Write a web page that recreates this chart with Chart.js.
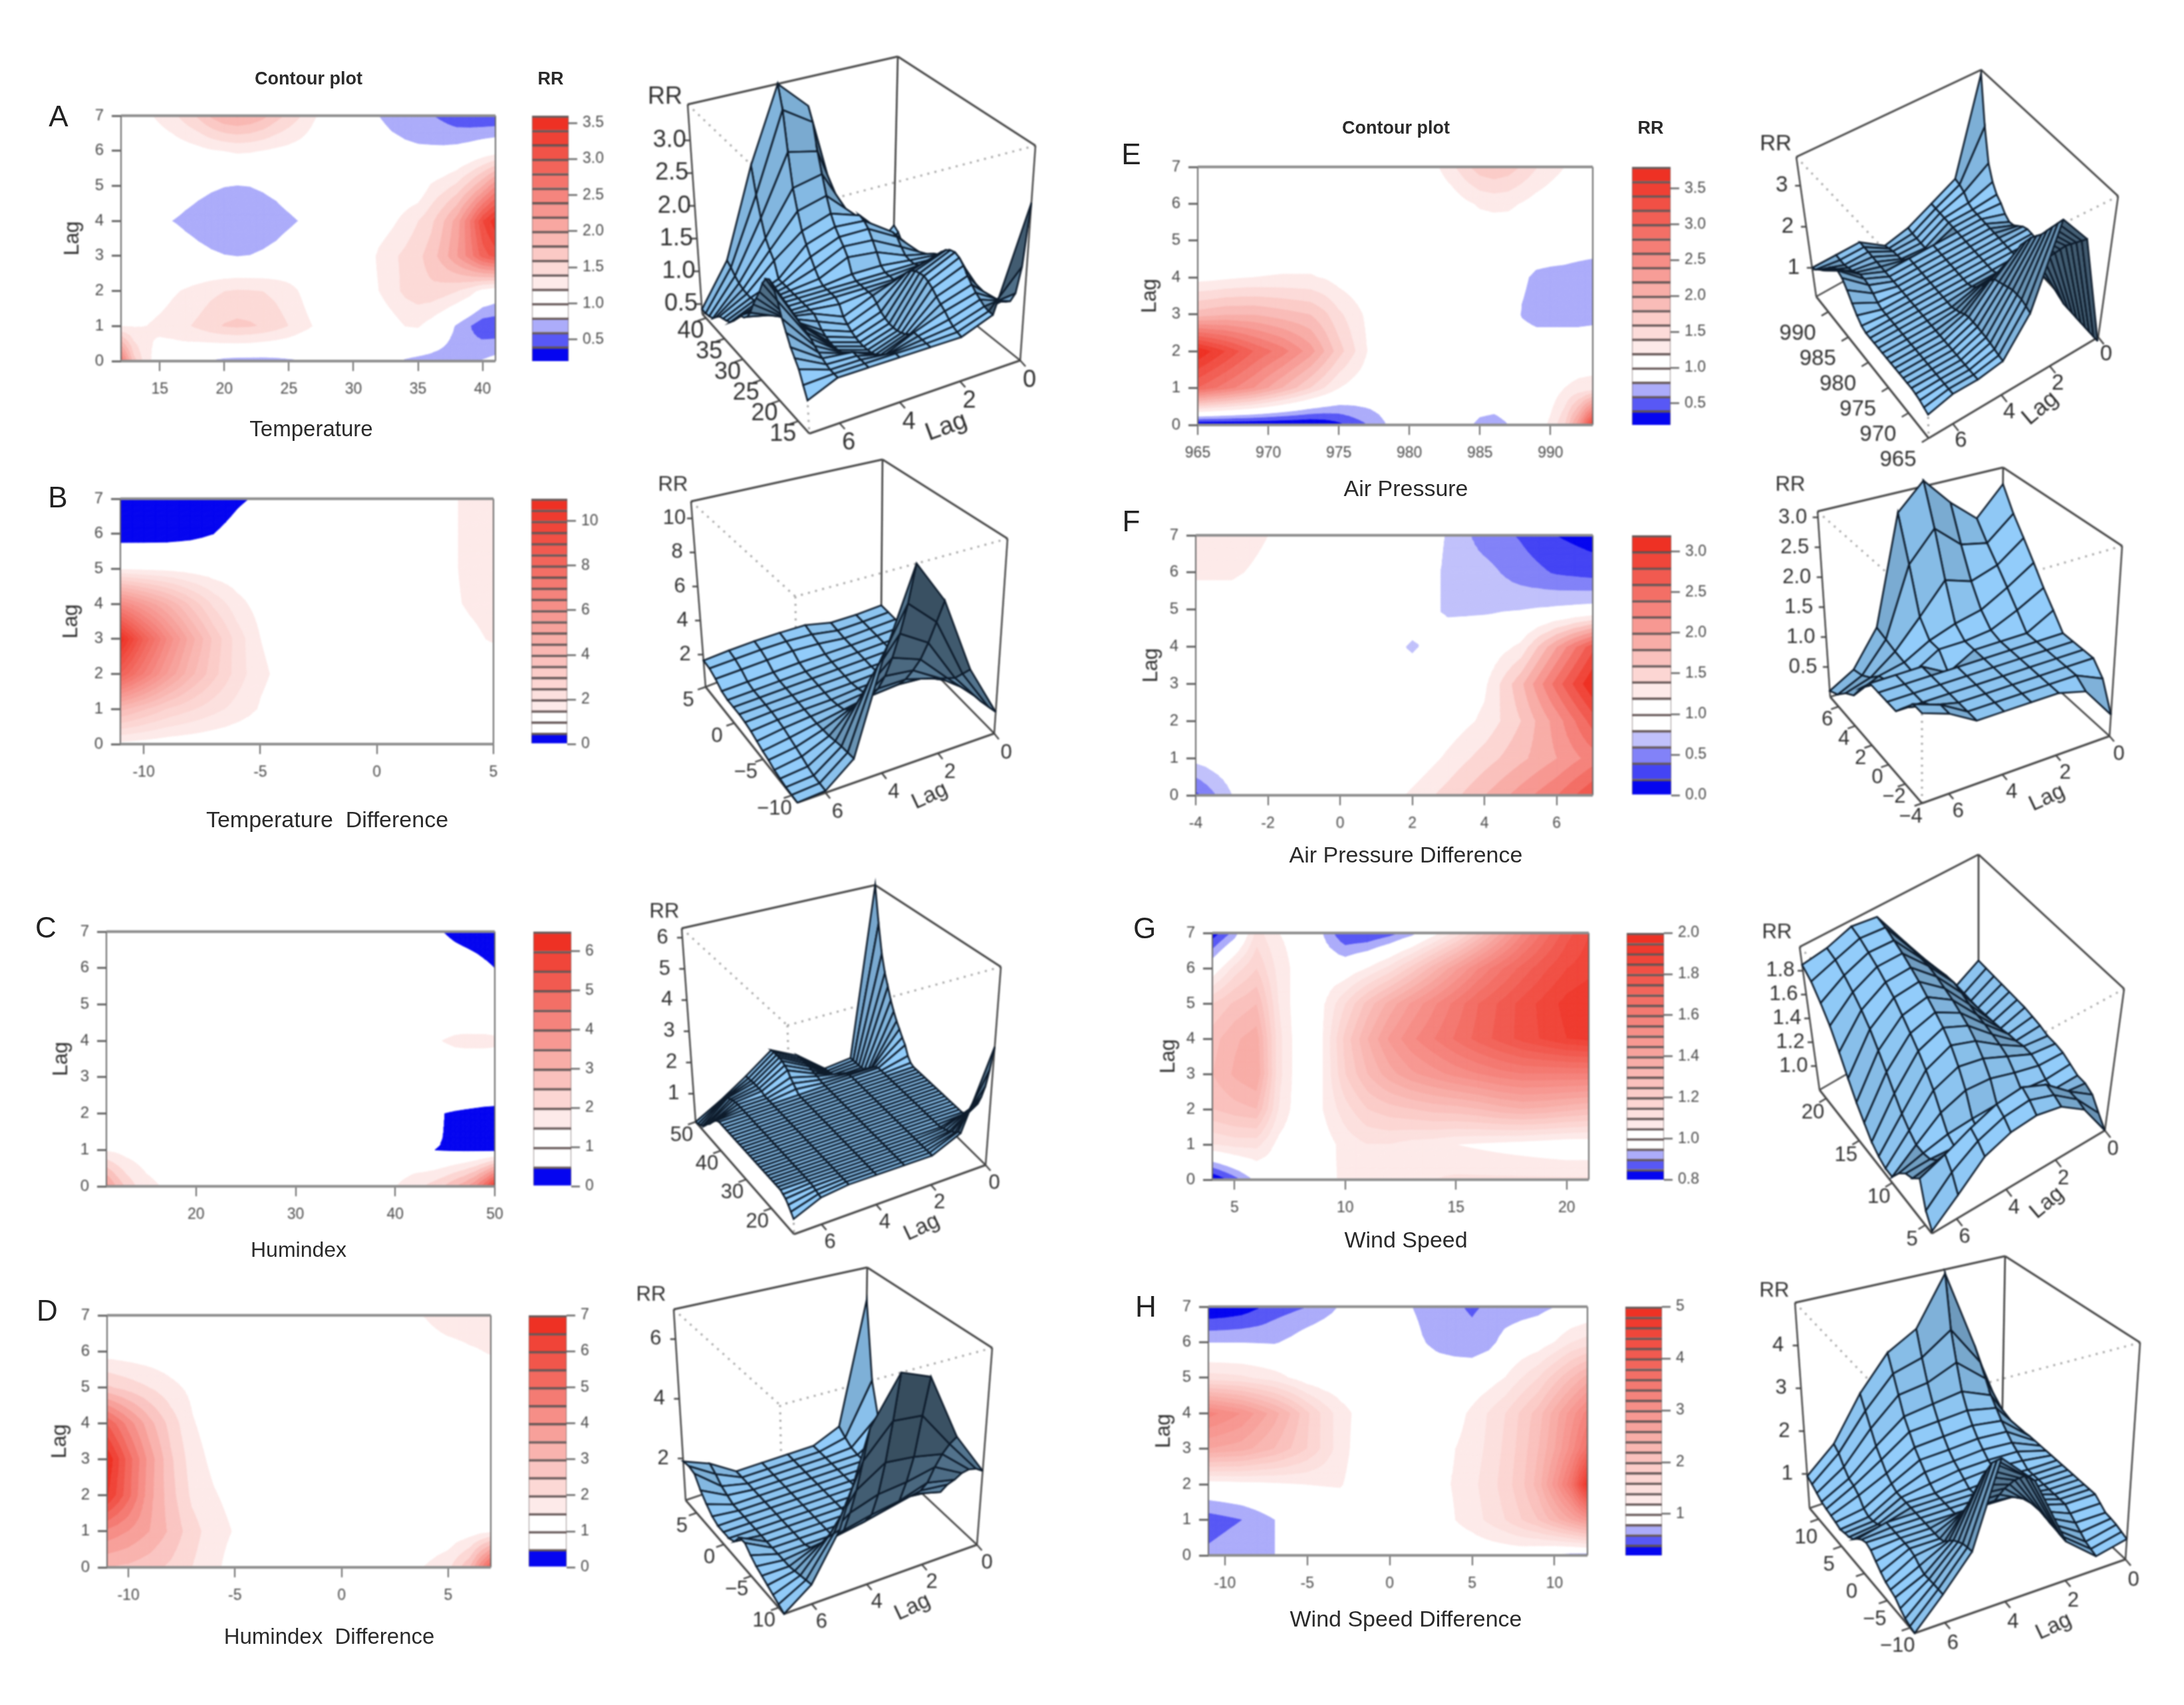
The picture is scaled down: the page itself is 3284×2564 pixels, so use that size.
<!DOCTYPE html>
<html>
<head>
<meta charset="utf-8">
<title>RR contour and surface plots</title>
<script src="https://cdn.jsdelivr.net/npm/chart.js@4/dist/chart.umd.min.js"></script>
<style>
  html, body { margin: 0; background: #fff; }
  #page { position: relative; width: 3284px; height: 2564px; overflow: hidden; background: #fff; font-family: "Liberation Sans", Arial, sans-serif; }
  #page canvas { position: absolute; filter: blur(0.8px); }
  .txt { position: absolute; transform: translate(-50%, -50%); white-space: pre; color: #2a2a2a; filter: blur(0.5px); }
</style>
</head>
<body>
<div id="page"></div>
<script>
// lag is the same for all panels
const lags = [0, 1, 2, 3, 4, 5, 6, 7];

// ---- A: temperature
const tempVals = [12, 13, 14, 15, 16, 17, 18, 19, 20, 21, 22, 23, 24, 25, 26, 27, 28, 29, 30, 31, 32, 33, 34, 35, 36, 37, 38, 39, 40, 41];
const tempRR = [
  [2.7, 1.7, 1.25, 1.08, 1.02, .97, .88, .79, .74, .72, .72, .72, .74, .77, .8, .9, .95, .98, .98, .96, .92, .85, .78, .74, .72, .7, .68, .7, .82, .88],
  [1.18, 1.18, 1.2, 1.25, 1.3, 1.37, 1.45, 1.55, 1.62, 1.65, 1.63, 1.58, 1.5, 1.4, 1.28, 1.18, 1.1, 1.03, 1, 1, 1.02, 1.1, 1.2, 1.22, 1.1, .95, .78, .62, .47, .45],
  [1, 1.02, 1.05, 1.1, 1.17, 1.22, 1.28, 1.35, 1.4, 1.43, 1.42, 1.4, 1.35, 1.27, 1.17, 1.05, 1, 1, 1, 1.05, 1.2, 1.33, 1.45, 1.52, 1.55, 1.5, 1.42, 1.3, 1.1, 1],
  [1, 1, 1, 1, 1, .92, .867, .83, .807, .8, .805, .83, .87, .94, 1, 1, 1, 1, 1, 1.05, 1.25, 1.36, 1.45, 1.55, 1.7, 1.92, 2.2, 2.5, 2.9, 3.1],
  [1, 1, .95, .88, .8, .75, .71, .68, .665, .66, .665, .68, .71, .76, .82, .95, 1, 1, 1, 1, 1.05, 1.15, 1.27, 1.4, 1.55, 1.8, 2.1, 2.6, 3.2, 3.55],
  [1, 1, 1, 1, 1, .92, .867, .83, .807, .8, .805, .83, .87, .94, 1, 1, 1, 1, 1, 1, 1, 1, 1, 1, 1.22, 1.32, 1.45, 1.7, 2, 2.4],
  [1, 1, 1, 1.02, 1.05, 1.08, 1.12, 1.17, 1.2, 1.23, 1.22, 1.19, 1.15, 1.12, 1.08, 1.03, 1, 1, 1, .98, .95, .9, .86, .84, .84, .85, .88, .93, 1, 1.05],
  [.82, .98, 1.15, 1.25, 1.35, 1.5, 1.65, 1.85, 2, 2.05, 2, 1.88, 1.7, 1.55, 1.4, 1.22, 1.1, 1.03, 1, .9, .8, .72, .68, .65, .62, .55, .47, .44, .42, .42]
];
const tempTicks = [15, 20, 25, 30, 35, 40];
const tempBarTicks = [.5, 1, 1.5, 2, 2.5, 3, 3.5];
const tempSurfTicks = [.5, 1, 1.5, 2, 2.5, 3];

// ---- B: temperature difference
const tdiffVals = [-11, -10, -9, -8, -7, -6, -5, -4, -3, -2, -1, 0, 1, 2, 3, 4, 5];
const tdiffRR = [
  [1.3, 1.2, 1.1, 1.05, 1, 1, 1, 1, 1, 1, 1, 1, 1, 1, 1, 1, 1],
  [4.2, 3.6, 3, 2.6, 2.2, 1.8, 1.45, 1.25, 1.1, 1.05, 1, 1, 1, 1, 1, 1, 1],
  [8.5, 7, 5.5, 4.2, 3.2, 2.3, 1.6, 1.35, 1.15, 1.05, 1, 1, 1, 1, 1, 1.05, 1.1],
  [11, 8.5, 6.5, 4.8, 3.4, 2.3, 1.5, 1.25, 1.1, 1, 1, 1, 1, 1.05, 1.25, 1.4, 1.55],
  [6.5, 5.5, 4.5, 3.4, 2.4, 1.7, 1.25, 1.1, 1, 1, 1, 1, 1, 1.1, 1.4, 1.55, 1.65],
  [1.4, 1.35, 1.3, 1.2, 1.1, 1.05, 1, 1, 1, 1, 1, 1, 1, 1.1, 1.4, 1.6, 1.7],
  [.2, .22, .25, .35, .5, .62, .75, .88, .95, 1, 1, 1, 1, 1.1, 1.4, 1.6, 1.7],
  [.1, .12, .15, .22, .3, .45, .55, .7, .85, .95, 1, 1, 1, 1.1, 1.4, 1.6, 1.65]
];
const tdiffTicks = [-10, -5, 0, 5];
const tdiffBarTicks = [0, 2, 4, 6, 8, 10];
const tdiffSurfTicks = [2, 4, 6, 8, 10];

// ---- C: humindex
const humVals = [11, 12, 13, 14, 15, 16, 17, 18, 19, 20, 21, 22, 23, 24, 25, 26, 27, 28, 29, 30, 31, 32, 33, 34, 35, 36, 37, 38, 39, 40, 41, 42, 43, 44, 45, 46, 47, 48, 49, 50];
const humRR = [
  [3.8, 3, 2.4, 2, 1.7, 1.55, 1.4, 1.2, 1.05, 1, 1, 1, 1, 1, 1, 1, 1, 1, 1, 1, 1, 1, 1, 1, 1, 1, 1, 1.05, 1.2, 1.48, 1.65, 1.85, 2.05, 2.3, 2.6, 3, 3.4, 4, 5, 6.3],
  [1.4, 1.35, 1.25, 1.2, 1.12, 1.08, 1.05, 1, 1, 1, 1, 1, 1, 1, 1, 1, 1, 1, 1, 1, 1, 1, 1, 1, 1, 1, 1, 1, 1, 1, .95, .85, .65, .5, .47, .45, .43, .42, .41, .4],
  [1, 1, 1, 1, 1, 1, 1, 1, 1, 1, 1, 1, 1, 1, 1, 1, 1, 1, 1, 1, 1, 1, 1, 1, 1, 1, 1, 1, 1, 1, .97, .92, .85, .72, .5, .46, .43, .4, .37, .35],
  [1, 1, 1, 1, 1, 1, 1, 1, 1, 1, 1, 1, 1, 1, 1, 1, 1, 1, 1, 1, 1, 1, 1, 1, 1, 1, 1, 1, 1, 1, 1, 1.02, 1.05, 1.05, 1.08, 1.1, 1.1, 1.1, 1.1, 1.1],
  [1, 1, 1, 1, 1, 1, 1, 1, 1, 1, 1, 1, 1, 1, 1, 1, 1, 1, 1, 1, 1, 1, 1, 1, 1, 1, 1, 1, 1, 1, 1.1, 1.2, 1.3, 1.45, 1.52, 1.58, 1.6, 1.6, 1.6, 1.58],
  [1, 1, 1, 1, 1, 1, 1, 1, 1, 1, 1, 1, 1, 1, 1, 1, 1, 1, 1, 1, 1, 1, 1, 1, 1, 1, 1, 1, 1, 1, 1, 1, 1, 1.05, 1.05, 1.05, 1.05, 1.03, 1.02, 1],
  [.9, .92, .95, .98, 1, 1, 1, 1, 1, 1, 1, 1, 1, 1, 1, 1, 1, 1, 1, 1, 1, 1, 1, 1, 1, 1, 1, 1, 1, 1, 1, 1, 1, .98, .95, .9, .85, .75, .62, .5],
  [.55, .68, .8, .9, .95, 1, 1, 1, 1, 1, 1, 1, 1, 1, 1, 1, 1, 1, 1, 1, 1, 1, 1, 1, 1, 1, 1, 1, 1, 1, .95, .85, .72, .58, .48, .35, .25, .18, .13, .1]
];
const humTicks = [20, 30, 40, 50];
const humBarTicks = [0, 1, 2, 3, 4, 5, 6];
const humSurfTicks = [1, 2, 3, 4, 5, 6];

// ---- D: humindex difference
const hdiffVals = [-11, -10, -9, -8, -7, -6, -5, -4, -3, -2, -1, 0, 1, 2, 3, 4, 5, 6, 7];
const hdiffRR = [
  [3, 2.9, 2.7, 2.4, 2, 1.65, 1.2, 1.05, 1, 1, 1, 1, 1, 1, 1.3, 1.55, 1.9, 3, 5.8],
  [4.4, 4, 3.5, 2.9, 2.2, 1.75, 1.45, 1.15, 1, 1, 1, 1, 1, 1, 1, 1, 1.05, 1.2, 1.4],
  [6.6, 5.2, 3.7, 2.7, 1.9, 1.55, 1.3, 1.1, 1, 1, 1, 1, 1, 1, 1, 1, 1, 1, 1],
  [7, 5.3, 3.8, 2.6, 1.75, 1.35, 1.1, 1, 1, 1, 1, 1, 1, 1, 1, 1, 1, 1, 1],
  [5.5, 4.3, 3.2, 2.3, 1.55, 1.2, 1, 1, 1, 1, 1, 1, 1, 1, 1, 1, 1, 1, 1],
  [2.6, 2.3, 2, 1.65, 1.35, 1.1, 1, 1, 1, 1, 1, 1, 1, 1, 1, 1, 1, 1, 1],
  [1.2, 1.15, 1.1, 1.05, 1, 1, 1, 1, 1, 1, 1, 1, 1, 1, 1, 1.1, 1.2, 1.4, 1.55],
  [.6, .7, .8, .9, 1, 1.1, 1.25, 1.45, 1.42, 1.1, 1, 1, 1, 1.1, 1.3, 1.55, 1.9, 1.95, 1.9]
];
const hdiffTicks = [-10, -5, 0, 5];
const hdiffBarTicks = [0, 1, 2, 3, 4, 5, 6, 7];
const hdiffSurfTicks = [2, 4, 6];

// ---- E: air pressure
const presVals = [965, 966, 967, 968, 969, 970, 971, 972, 973, 974, 975, 976, 977, 978, 979, 980, 981, 982, 983, 984, 985, 986, 987, 988, 989, 990, 991, 992, 993];
const presRR = [
  [.2, .2, .2, .2, .2, .2, .2, .2, .2, .25, .35, .48, .6, .75, .9, .98, 1, 1, .95, .85, .75, .72, .8, .95, 1.05, 1.25, 1.6, 2.4, 3.6],
  [3, 2.85, 2.7, 2.55, 2.4, 2.2, 2, 1.8, 1.6, 1.4, 1.2, 1.1, 1.05, 1, 1, 1, 1, 1, 1, 1, 1, 1, 1, 1, 1, 1.05, 1.2, 1.27, 1.3],
  [3.8, 3.6, 3.4, 3.2, 3, 2.85, 2.7, 2.5, 2.3, 2, 1.7, 1.45, 1.2, 1.05, 1, 1, 1, 1, 1, 1, 1, 1, 1, 1, 1, 1, 1, 1, 1],
  [1.9, 1.95, 2, 2, 2, 1.95, 1.9, 1.85, 1.8, 1.65, 1.45, 1.3, 1.15, 1.05, 1, 1, 1, 1, 1, 1, 1, 1, 1, .78, .7, .7, .7, .7, .72],
  [1.1, 1.12, 1.15, 1.18, 1.2, 1.21, 1.22, 1.22, 1.22, 1.18, 1.1, 1.05, 1, 1, 1, 1, 1, 1, 1, 1, 1, 1, 1, .85, .75, .72, .7, .65, .6],
  [1, 1, 1, 1, 1, 1, 1, 1, 1, 1, 1, 1, 1, 1, 1, 1, 1, 1, 1, 1, 1, 1, 1, 1, 1, 1, 1, 1, 1],
  [1, 1, 1, 1, 1, 1, 1, 1, 1, 1, 1, 1, 1, 1, 1, 1, 1, 1, 1.05, 1.15, 1.23, 1.26, 1.25, 1.18, 1.1, 1.05, 1, 1, 1],
  [.85, .9, .95, .98, 1, 1, 1, 1, 1, 1, 1, 1, 1, 1, 1, 1, 1.05, 1.18, 1.35, 1.55, 1.72, 1.78, 1.72, 1.58, 1.42, 1.3, 1.2, 1.08, 1]
];
const presTicks = [965, 970, 975, 980, 985, 990];
const presBarTicks = [.5, 1, 1.5, 2, 2.5, 3, 3.5];
const presSurfTicks = [1, 2, 3];

// ---- F: air pressure difference
const pdiffVals = [-4, -3, -2, -1, 0, 1, 2, 3, 4, 5, 6, 7];
const pdiffRR = [
  [.35, .8, 1, 1, 1, 1, 1.25, 1.5, 1.8, 2.1, 2.4, 2.8],
  [.88, 1, 1, 1, 1, 1, 1, 1.25, 1.5, 1.75, 2, 2.3],
  [1, 1, 1, 1, 1, 1, 1, 1.05, 1.25, 1.6, 2.1, 2.7],
  [1, 1, 1, 1, 1, 1, 1, 1, 1.15, 1.75, 2.5, 3.2],
  [1, 1, 1, 1, 1, 1, .76, 1, 1, 1.25, 2, 2.75],
  [1, 1, 1, 1, 1, 1, 1, .75, .77, .8, .85, .9],
  [1.25, 1.25, 1.1, 1, 1, 1, 1, .75, .68, .5, .38, .32],
  [1.4, 1.4, 1.2, 1, 1, 1, 1, .78, .5, .38, .2, .1]
];
const pdiffTicks = [-4, -2, 0, 2, 4, 6];
const pdiffBarTicks = [0, .5, 1, 1.5, 2, 2.5, 3];
const pdiffSurfTicks = [.5, 1, 1.5, 2, 2.5, 3];

// ---- G: wind speed
const windVals = [4, 5, 6, 7, 8, 9, 10, 11, 12, 13, 14, 15, 16, 17, 18, 19, 20, 21];
const windRR = [
  [.8, .88, .97, 1, 1, 1.03, 1.06, 1.07, 1.07, 1.09, 1.1, 1.11, 1.11, 1.11, 1.11, 1.11, 1.11, 1.11],
  [1.1, 1.12, 1.12, 1.03, 1, 1.02, 1.07, 1.1, 1.1, 1.08, 1.07, 1.05, 1.04, 1.03, 1.02, 1.01, 1, 1],
  [1.25, 1.28, 1.3, 1.1, 1, 1.05, 1.13, 1.2, 1.23, 1.25, 1.27, 1.28, 1.3, 1.33, 1.35, 1.34, 1.32, 1.3],
  [1.3, 1.36, 1.4, 1.12, 1, 1.05, 1.2, 1.3, 1.38, 1.44, 1.48, 1.52, 1.55, 1.58, 1.6, 1.6, 1.6, 1.6],
  [1.28, 1.34, 1.38, 1.12, 1, 1.05, 1.22, 1.35, 1.46, 1.54, 1.6, 1.66, 1.72, 1.77, 1.82, 1.86, 1.9, 1.92],
  [1.2, 1.26, 1.3, 1.1, 1, 1.04, 1.15, 1.27, 1.37, 1.46, 1.54, 1.62, 1.7, 1.76, 1.82, 1.87, 1.92, 1.95],
  [1, 1.12, 1.2, 1.08, 1.02, 1, 1, 1.05, 1.12, 1.22, 1.33, 1.44, 1.55, 1.64, 1.72, 1.79, 1.85, 1.88],
  [.82, .92, 1.12, 1.05, 1.02, .95, .85, .85, .88, .93, 1.02, 1.12, 1.25, 1.4, 1.55, 1.67, 1.78, 1.85]
];
const windTicks = [5, 10, 15, 20];
const windBarTicks = [.8, 1, 1.2, 1.4, 1.6, 1.8, 2];
const windSurfTicks = [1, 1.2, 1.4, 1.6, 1.8];

// ---- H: wind speed difference
const wdiffVals = [-11, -10, -9, -8, -7, -6, -5, -4, -3, -2, -1, 0, 1, 2, 3, 4, 5, 6, 7, 8, 9, 10, 11, 12];
const wdiffRR = [
  [.65, .7, .75, .78, .8, .9, 1, 1, 1, 1, 1, 1, 1, 1, 1, 1, 1, 1, 1, .98, .9, .78, .72, .7],
  [.5, .55, .6, .7, .8, .9, 1, 1, 1, 1, 1, 1, 1, 1, 1.1, 1.2, 1.3, 1.45, 1.6, 1.8, 2, 2.3, 2.6, 2.9],
  [1.05, 1.07, 1.1, 1.12, 1.15, 1.18, 1.2, 1.21, 1.22, 1.1, 1, 1, 1, 1.05, 1.15, 1.22, 1.35, 1.5, 1.7, 1.95, 2.3, 2.9, 3.6, 4.9],
  [2.6, 2.55, 2.5, 2.35, 2.2, 2, 1.8, 1.55, 1.3, 1.12, 1, 1, 1, 1, 1.1, 1.2, 1.3, 1.45, 1.65, 1.9, 2.2, 2.6, 3.1, 3.7],
  [3.3, 3.15, 3, 2.75, 2.5, 2.2, 1.85, 1.55, 1.3, 1.15, 1, 1, 1, 1, 1, 1.1, 1.25, 1.42, 1.6, 1.85, 2.1, 2.5, 2.9, 3.3],
  [1.5, 1.48, 1.45, 1.38, 1.3, 1.18, 1.05, 1, 1, 1, 1, 1, 1, 1, 1, 1, 1, 1.08, 1.2, 1.4, 1.6, 1.9, 2.2, 2.5],
  [.8, .8, .8, .79, .78, .85, .95, 1, 1, 1, 1, 1, 1, .82, .72, .67, .65, .72, .9, 1, 1.05, 1.2, 1.4, 1.5],
  [.2, .23, .28, .38, .5, .55, .6, .7, .82, .95, 1, .95, .85, .72, .65, .62, .58, .62, .65, .68, .72, .8, .88, .95]
];
const wdiffTicks = [-10, -5, 0, 5, 10];
const wdiffBarTicks = [1, 2, 3, 4, 5];
const wdiffSurfTicks = [1, 2, 3, 4];

// panel table: plot box, colour bar, labels and the 3d box corners
// lb/lt = left corner (var max, lag 7), bb/bt = back (var max, lag 0), rb/rt = right (var min, lag 0), fb/ft = front (var min, lag 7)
const panels = [
  { id: 'A', label: 'Temperature', vals: tempVals, rr: tempRR, ticks: tempTicks, barTicks: tempBarTicks, surfTicks: tempSurfTicks,
    xmin: 12, xmax: 41, box: [182, 745, 174, 543], bar: [800, 855], bands: [.2, .2, 17, 3, 2], dec: 1, letter: [88, 175], xlab: [468, 645], xfs: 33, lagX: 109, fs: 23,
    lb: [1056, 472], lt: [1034, 157], bb: [1343, 389], bt: [1350, 85], rb: [1534, 542], rt: [1557, 219], fb: [1217, 652], ft: [1198, 313],
    z: [.35, 3.55], surfVarTicks: [15, 20, 25, 30, 35, 40], surfVarLabels: ['15', '20', '25', '30', '35', '40'], varOff: [-23, 20], lagOff: [14, 30], rrOff: -31, rrLab: [-34, -11], lagTitle: [1423, 642], rot: -20, sfs: 36 },
  { id: 'B', label: 'Temperature  Difference', vals: tdiffVals, rr: tdiffRR, ticks: tdiffTicks, barTicks: tdiffBarTicks, surfTicks: tdiffSurfTicks,
    xmin: -11, xmax: 5, box: [181, 742, 750, 1119], bar: [799, 853], bands: [0, .5, 22, 1, 2], dec: 0, letter: [87, 748], xlab: [492, 1232], xfs: 34, lagX: 107, fs: 23,
    lb: [1061, 1033], lt: [1039, 754], bb: [1325, 930], bt: [1327, 691], rb: [1495, 1103], rt: [1515, 810], fb: [1199, 1207], ft: [1196, 897],
    z: [.1, 11], surfVarTicks: [-10, -5, 0, 5], surfVarLabels: ['−10', '−5', '0', '5'], varOff: [-26, 20], lagOff: [18, 29], rrOff: -27, rrLab: [-27, -25], lagTitle: [1398, 1197], rot: -25, sfs: 31 },
  { id: 'C', label: 'Humindex', vals: humVals, rr: humRR, ticks: humTicks, barTicks: humBarTicks, surfTicks: humSurfTicks,
    xmin: 11, xmax: 50, box: [160, 744, 1401, 1784], bar: [802, 859], bands: [0, .5, 13, 1, 2], dec: 0, letter: [69, 1395], xlab: [449, 1879], xfs: 32, lagX: 92, fs: 23,
    lb: [1046, 1687], lt: [1025, 1396], bb: [1318, 1590], bt: [1316, 1331], rb: [1482, 1752], rt: [1505, 1454], fb: [1194, 1856], ft: [1184, 1542],
    z: [.1, 6.3], surfVarTicks: [20, 30, 40, 50], surfVarLabels: ['20', '30', '40', '50'], varOff: [-21, 20], lagOff: [13, 27], rrOff: -30, rrLab: [-26, -25], lagTitle: [1386, 1846], rot: -25, sfs: 31 },
  { id: 'D', label: 'Humindex  Difference', vals: hdiffVals, rr: hdiffRR, ticks: hdiffTicks, barTicks: hdiffBarTicks, surfTicks: hdiffSurfTicks,
    xmin: -11, xmax: 7, box: [161, 738, 1978, 2357], bar: [795, 852], bands: [0, .5, 14, 1, 2], dec: 0, letter: [71, 1971], xlab: [495, 2461], xfs: 33, lagX: 90, fs: 23,
    lb: [1031, 2256], lt: [1013, 1969], bb: [1300, 2165], bt: [1304, 1906], rb: [1469, 2323], rt: [1492, 2027], fb: [1179, 2427], ft: [1173, 2113],
    z: [.6, 7], surfVarTicks: [-10, -5, 0, 5], surfVarLabels: ['10', '−5', '0', '5'], varOff: [-22, 20], lagOff: [15, 27], rrOff: -30, rrLab: [-34, -22], lagTitle: [1372, 2417], rot: -25, sfs: 31 },
  { id: 'E', label: 'Air Pressure', vals: presVals, rr: presRR, ticks: presTicks, barTicks: presBarTicks, surfTicks: presSurfTicks,
    xmin: 965, xmax: 993, box: [1801, 2395, 251, 639], bar: [2454, 2512], bands: [.2, .2, 18, 3, 2], dec: 1, letter: [1701, 232], xlab: [2114, 734], xfs: 34, lagX: 1729, fs: 23,
    lb: [2731, 446], lt: [2701, 236], bb: [2975, 310], bt: [2979, 105], rb: [3155, 507], rt: [3185, 295], fb: [2900, 659], ft: [2895, 440],
    z: [.3, 3.7], surfVarTicks: [965, 970, 975, 980, 985, 990], surfVarLabels: ['965', '970', '975', '980', '985', '990'], varOff: [-46, 33], lagOff: [12, 26], rrOff: -28, rrLab: [-31, -19], lagTitle: [3068, 614], rot: -40, sfs: 33 },
  { id: 'F', label: 'Air Pressure Difference', vals: pdiffVals, rr: pdiffRR, ticks: pdiffTicks, barTicks: pdiffBarTicks, surfTicks: pdiffSurfTicks,
    xmin: -4, xmax: 7, box: [1798, 2395, 805, 1196], bar: [2454, 2513], bands: [0, .2, 16, 4, 2], dec: 1, letter: [1701, 784], xlab: [2114, 1285], xfs: 34, lagX: 1731, fs: 23,
    lb: [2752, 1048], lt: [2733, 769], bb: [3010, 960], bt: [3012, 703], rb: [3172, 1107], rt: [3191, 821], fb: [2890, 1208], ft: [2890, 908],
    z: [0, 3.1], surfVarTicks: [-4, -2, 0, 2, 4, 6], surfVarLabels: ['−4', '−2', '0', '2', '4', '6'], varOff: [-17, 20], lagOff: [14, 27], rrOff: -38, rrLab: [-41, -40], lagTitle: [3078, 1200], rot: -25, sfs: 31 },
  { id: 'G', label: 'Wind Speed', vals: windVals, rr: windRR, ticks: windTicks, barTicks: windBarTicks, surfTicks: windSurfTicks,
    xmin: 4, xmax: 21, box: [1823, 2389, 1403, 1774], bar: [2446, 2502], bands: [.8, .05, 24, 3, 2], dec: 1, letter: [1721, 1396], xlab: [2114, 1864], xfs: 34, lagX: 1757, fs: 23,
    lb: [2736, 1639], lt: [2706, 1424], bb: [2975, 1500], bt: [2975, 1285], rb: [3165, 1700], rt: [3194, 1487], fb: [2905, 1855], ft: [2915, 1640],
    z: [.8, 2], surfVarTicks: [5, 10, 15, 20], surfVarLabels: ['5', '10', '15', '20'], varOff: [-20, 22], lagOff: [12, 28], rrOff: -34, rrLab: [-34, -22], lagTitle: [3078, 1809], rot: -40, sfs: 31 },
  { id: 'H', label: 'Wind Speed Difference', vals: wdiffVals, rr: wdiffRR, ticks: wdiffTicks, barTicks: wdiffBarTicks, surfTicks: wdiffSurfTicks,
    xmin: -11, xmax: 12, box: [1817, 2387, 1965, 2339], bar: [2444, 2499], bands: [.2, .2, 24, 3, 2], dec: 0, letter: [1723, 1965], xlab: [2114, 2434], xfs: 34, lagX: 1750, fs: 23,
    lb: [2721, 2268], lt: [2699, 1959], bb: [3010, 2170], bt: [3015, 1889], rb: [3196, 2345], rt: [3218, 2019], fb: [2879, 2456], ft: [2849, 2116],
    z: [.2, 5], surfVarTicks: [-10, -5, 0, 5, 10], surfVarLabels: ['−10', '−5', '0', '5', '10'], varOff: [-19, 28], lagOff: [12, 31], rrOff: -30, rrLab: [-31, -18], lagTitle: [3088, 2446], rot: -25, sfs: 31 }
];

const page = document.getElementById('page');
const FONT = '"Liberation Sans", Arial, sans-serif';
const BLUE = [5, 5, 240], RED = [238, 49, 36];
const off = { animation: false, responsive: false, devicePixelRatio: 1, events: [], plugins: { legend: { display: false }, tooltip: { enabled: false } } };

function addText(str, x, y, size, extra) {
  const d = document.createElement('div');
  d.className = 'txt';
  d.textContent = str;
  d.style.cssText = `left:${x}px;top:${y}px;font-size:${size}px;` + (extra || '');
  page.appendChild(d);
}

function addCanvas(left, top, w, h) {
  const c = document.createElement('canvas');
  c.width = w; c.height = h;
  c.style.left = left + 'px'; c.style.top = top + 'px';
  c.style.width = w + 'px'; c.style.height = h + 'px';
  page.appendChild(c);
  return c;
}

function mix(rgb, t) {
  return `rgb(${rgb.map(v => Math.round(255 + (v - 255) * t)).join(',')})`;
}

// [start, step, count, blue bands, white bands] -> list of bands low to high
function makeBands(spec) {
  const [start, step, count, nBlue, nWhite] = spec;
  const nRed = count - nBlue - nWhite;
  const out = [];
  for (let i = 0; i < count; i++) {
    const lo = +(start + i * step).toFixed(4), hi = +(start + (i + 1) * step).toFixed(4);
    let color = '#fff', white = false;
    if (i < nBlue) color = mix(BLUE, (nBlue - i) / nBlue);
    else if (i < nBlue + nWhite) white = true;
    else color = mix(RED, .1 + .9 * (i - nBlue - nWhite) / Math.max(1, nRed - 1));
    out.push({ lo, hi, color, white });
  }
  return out;
}

// keep the part of a triangle (each vertex x, y, v) where the value lies in a band
function clipAbove(poly, lim, sign) {
  const out = [];
  for (let i = 0; i < poly.length; i++) {
    const a = poly[i], b = poly[(i + 1) % poly.length];
    const ina = sign * (a[2] - lim) >= 0, inb = sign * (b[2] - lim) >= 0;
    if (ina) out.push(a);
    if (ina !== inb) {
      const t = (lim - a[2]) / (b[2] - a[2]);
      out.push([a[0] + (b[0] - a[0]) * t, a[1] + (b[1] - a[1]) * t, lim]);
    }
  }
  return out;
}

function contourTriangles(vals, rr) {
  const tris = [], SX = 2, SY = 6;
  const at = (i, j, s, t) => {
    const x = vals[i] + (vals[i + 1] - vals[i]) * s, y = lags[j] + (lags[j + 1] - lags[j]) * t;
    const v = (rr[j][i] * (1 - s) + rr[j][i + 1] * s) * (1 - t) + (rr[j + 1][i] * (1 - s) + rr[j + 1][i + 1] * s) * t;
    return [x, y, v];
  };
  for (let j = 0; j < lags.length - 1; j++) for (let i = 0; i < vals.length - 1; i++)
    for (let a = 0; a < SX; a++) for (let b = 0; b < SY; b++) {
      const p00 = at(i, j, a / SX, b / SY), p10 = at(i, j, (a + 1) / SX, b / SY);
      const p01 = at(i, j, a / SX, (b + 1) / SY), p11 = at(i, j, (a + 1) / SX, (b + 1) / SY);
      tris.push([p00, p10, p11], [p00, p11, p01]);
    }
  return tris;
}

function contourChart(p) {
  const [x0, x1, y0, y1] = p.box;
  const ML = 110, MR = 25, MT = 20, MB = 80;
  const w = x1 - x0 + ML + MR, h = y1 - y0 + MT + MB;
  const bands = makeBands(p.bands);
  const tris = contourTriangles(p.vals, p.rr);
  const datasets = [];
  // plot frame
  const fr = (a, b, color, width) => ({ data: [a, b], showLine: true, pointRadius: 0, borderColor: color, borderWidth: width, clip: 6 });
  datasets.push(
    fr({ x: p.xmin, y: 7 }, { x: p.xmax, y: 7 }, '#8d8d8d', 4),
    fr({ x: p.xmin, y: 0 }, { x: p.xmax, y: 0 }, '#8d8d8d', 4),
    fr({ x: p.xmin, y: 0 }, { x: p.xmin, y: 7 }, '#666', 2),
    fr({ x: p.xmax, y: 0 }, { x: p.xmax, y: 7 }, '#666', 2)
  );
  bands.forEach((b, k) => {
    if (b.white) return;
    const lo = k === 0 ? -1e9 : b.lo, hi = k === bands.length - 1 ? 1e9 : b.hi;
    const pts = [];
    for (const tri of tris) {
      const vs = tri.map(q => q[2]);
      if (Math.max(...vs) < lo || Math.min(...vs) > hi) continue;
      let poly = clipAbove(tri, lo, 1);
      if (poly.length) poly = clipAbove(poly, hi, -1);
      if (poly.length < 3) continue;
      poly.forEach(q => pts.push({ x: q[0], y: q[1] }));
      pts.push({ x: poly[0][0], y: poly[0][1] }, { x: null, y: null });
    }
    if (pts.length) datasets.push({ data: pts, showLine: true, fill: 'shape', pointRadius: 0, backgroundColor: b.color, borderColor: b.color, borderWidth: 1 });
  });
  const lh = 31 * 1.2;
  new Chart(addCanvas(x0 - ML, y0 - MT, w, h), {
    type: 'scatter',
    data: { datasets },
    options: {
      ...off,
      layout: { padding: { top: MT, right: MR, left: 0, bottom: 0 } },
      scales: {
        x: {
          type: 'linear', min: p.xmin, max: p.xmax, position: 'bottom',
          afterBuildTicks(ax) { ax.ticks = p.ticks.map(v => ({ value: v })); },
          afterFit(s) { s.height = MB; s.paddingLeft = 0; s.paddingRight = 0; },
          grid: { drawOnChartArea: false, drawTicks: true, tickLength: 15, color: '#666', lineWidth: 2 },
          border: { display: false },
          ticks: { autoSkip: false, maxRotation: 0, padding: 14, color: '#4a4a4a', font: { family: FONT, size: p.fs }, callback: v => String(v) }
        },
        y: {
          type: 'linear', min: 0, max: 7, position: 'left',
          afterBuildTicks(ax) { ax.ticks = lags.map(v => ({ value: v })); },
          afterFit(s) { s.width = ML; s.paddingTop = 0; s.paddingBottom = 0; },
          grid: { drawOnChartArea: false, drawTicks: true, tickLength: 14, color: '#666', lineWidth: 3 },
          border: { display: false },
          title: { display: true, text: 'Lag', color: '#2a2a2a', font: { family: FONT, size: 31 }, padding: { top: p.lagX - (x0 - ML) - lh / 2, bottom: 0 } },
          ticks: { autoSkip: false, padding: 12, color: '#4a4a4a', font: { family: FONT, size: p.fs + 1 }, callback: v => String(v) }
        }
      }
    }
  });
}

function barChart(p) {
  const [, , y0, y1] = p.box;
  const [bx0, bx1] = p.bar;
  const bands = makeBands(p.bands);
  const W = bx1 - bx0 + 75, PAD = 16;
  new Chart(addCanvas(bx0, y0 - PAD, W, y1 - y0 + 2 * PAD), {
    type: 'bar',
    data: {
      labels: ['RR'],
      datasets: bands.map(b => ({
        data: [[b.lo, b.hi]], backgroundColor: b.color, borderColor: 'rgba(45,25,25,.72)',
        borderWidth: { top: 3.5, left: 1, right: 1, bottom: 0 }, borderSkipped: false,
        barPercentage: 1, categoryPercentage: 1, grouped: false
      }))
    },
    options: {
      ...off,
      layout: { padding: { top: PAD, bottom: PAD } },
      scales: {
        x: { display: false },
        y: {
          type: 'linear', position: 'right', min: bands[0].lo, max: bands[bands.length - 1].hi,
          afterBuildTicks(ax) { ax.ticks = p.barTicks.map(v => ({ value: v })); },
          afterFit(s) { s.width = W - (bx1 - bx0); s.paddingTop = 0; s.paddingBottom = 0; },
          grid: { drawOnChartArea: false, drawTicks: true, tickLength: 13, color: '#666', lineWidth: 2.5 },
          border: { display: false },
          ticks: { autoSkip: false, padding: 8, color: '#4a4a4a', font: { family: FONT, size: p.fs }, callback: v => v.toFixed(p.dec) }
        }
      }
    }
  });
}

const SURF = [140, 196, 240];
const LIGHT = [-.46, .25, .85];

function shadeOf(a, b, c, d) {
  const d1 = [c[0] - a[0], c[1] - a[1], c[2] - a[2]], d2 = [d[0] - b[0], d[1] - b[1], d[2] - b[2]];
  let n = [d1[1] * d2[2] - d1[2] * d2[1], d1[2] * d2[0] - d1[0] * d2[2], d1[0] * d2[1] - d1[1] * d2[0]];
  if (n[2] < 0) n = n.map(q => -q);
  const len = Math.hypot(...n) || 1;
  const dot = (n[0] * LIGHT[0] + n[1] * LIGHT[1] + n[2] * LIGHT[2]) / len;
  const f = Math.min(1.04, ((1 + dot) / 2) / .925);
  return `rgb(${SURF.map(v => Math.round(v * f)).join(',')})`;
}

function surfaceChart(p) {
  const corners = [p.lb, p.lt, p.bb, p.bt, p.rb, p.rt, p.fb, p.ft];
  const left = Math.min(...corners.map(q => q[0])) - 80, right = Math.max(...corners.map(q => q[0])) + 45;
  const top = Math.min(...corners.map(q => q[1])) - 50, bottom = Math.max(...corners.map(q => q[1])) + 65;
  const lerp = (a, b, t) => [a[0] + (b[0] - a[0]) * t, a[1] + (b[1] - a[1]) * t];
  const [zLo, zHi] = p.z;
  const unitU = v => (v - p.xmin) / (p.xmax - p.xmin), unitV = l => l / 7, unitW = z => (z - zLo) / (zHi - zLo);
  // var value, lag, RR -> page position on the box
  const project = (u, v, w) => {
    const bot = lerp(lerp(p.rb, p.fb, v), lerp(p.bb, p.lb, v), u);
    const tp = lerp(lerp(p.rt, p.ft, v), lerp(p.bt, p.lt, v), u);
    const q = lerp(bot, tp, w);
    return { x: q[0], y: q[1] };
  };
  const seg = (a, b, color, width, dash) => ({ data: [{ x: a[0], y: a[1] }, { x: b[0], y: b[1] }], showLine: true, pointRadius: 0, borderColor: color, borderWidth: width, borderDash: dash || [] });
  const back = [
    seg(p.lt, p.ft, '#a5a5a5', 3, [3, 8]), seg(p.rt, p.ft, '#a5a5a5', 3, [3, 8]), seg(p.ft, p.fb, '#a5a5a5', 3, [3, 8]),
    seg(p.lb, p.bb, '#444', 2.5), seg(p.rb, p.bb, '#444', 2.5), seg(p.bb, p.bt, '#333', 2.5),
    seg(p.lt, p.bt, '#444', 3), seg(p.bt, p.rt, '#444', 3), seg(p.lt, p.lb, '#444', 2.5), seg(p.rt, p.rb, '#444', 2.5),
    seg(p.lb, p.fb, '#444', 3), seg(p.fb, p.rb, '#444', 3)
  ];
  // back to front
  const quads = [];
  for (let i = p.vals.length - 2; i >= 0; i--) {
    for (let j = 0; j < lags.length - 1; j++) {
      const v = [[i, j], [i + 1, j], [i + 1, j + 1], [i, j + 1]];
      const cube = v.map(([a, b]) => [unitU(p.vals[a]), unitV(lags[b]), unitW(p.rr[b][a])]);
      const pts = cube.map(q => project(q[0], q[1], q[2]));
      pts.push(pts[0]);
      quads.push({ data: pts, showLine: true, fill: 'shape', pointRadius: 0, backgroundColor: shadeOf(...cube), borderColor: '#0e1c2c', borderWidth: 2.6 });
    }
  }
  // axis tick marks
  const tickCol = '#444', marks = [], labels = [];
  const toArr = q => [q.x, q.y];
  const dirVar = [(p.fb[0] - p.rb[0]) * .04, (p.fb[1] - p.rb[1]) * .04];
  const dirLag = [(p.fb[0] - p.lb[0]) * .05, (p.fb[1] - p.lb[1]) * .05];
  p.surfVarTicks.forEach((t, k) => {
    const a = toArr(project(unitU(t), 1, 0));
    marks.push(seg(a, [a[0] + dirVar[0], a[1] + dirVar[1]], tickCol, 2.5));
    labels.push({ text: p.surfVarLabels[k], x: a[0] + p.varOff[0], y: a[1] + p.varOff[1], size: p.sfs });
  });
  [0, 2, 4, 6].forEach(t => {
    const a = toArr(project(0, unitV(t), 0));
    marks.push(seg(a, [a[0] + dirLag[0], a[1] + dirLag[1]], tickCol, 2.5));
    labels.push({ text: String(t), x: a[0] + p.lagOff[0], y: a[1] + p.lagOff[1], size: p.sfs });
  });
  p.surfTicks.forEach(t => {
    const a = toArr(project(1, 1, unitW(t)));
    marks.push(seg(a, [a[0] - 8, a[1]], tickCol, 2.5));
    labels.push({ text: p.surfTicks.some(q => q % 1) ? t.toFixed(1) : String(t), x: a[0] + p.rrOff, y: a[1], size: p.sfs });
  });
  labels.push({ text: 'RR', x: p.lt[0] + p.rrLab[0], y: p.lt[1] + p.rrLab[1], size: p.sfs });
  labels.push({ text: 'Lag', x: p.lagTitle[0], y: p.lagTitle[1], size: p.sfs + 2, rot: p.rot });

  const ordered = [...back, ...quads, ...marks].reverse(); // chart.js paints the last dataset first
  new Chart(addCanvas(left, top, right - left, bottom - top), {
    type: 'scatter',
    data: { datasets: ordered },
    options: {
      ...off,
      layout: { padding: 0 },
      scales: {
        x: { type: 'linear', min: left, max: right, display: false },
        y: { type: 'linear', min: top, max: bottom, reverse: true, display: false }
      }
    },
    plugins: [{
      id: 'surfaceLabels',
      afterDatasetsDraw(chart) {
        const { ctx, scales } = chart;
        ctx.save();
        ctx.fillStyle = '#2f2f2f';
        ctx.textAlign = 'center';
        ctx.textBaseline = 'middle';
        labels.forEach(l => {
          ctx.save();
          ctx.translate(scales.x.getPixelForValue(l.x), scales.y.getPixelForValue(l.y));
          if (l.rot) ctx.rotate(l.rot * Math.PI / 180);
          ctx.font = `${l.size}px ${FONT}`;
          ctx.fillText(l.text, 0, 0);
          ctx.restore();
        });
        ctx.restore();
      }
    }]
  });
}

panels.forEach(p => {
  contourChart(p);
  barChart(p);
  surfaceChart(p);
  addText(p.id, p.letter[0], p.letter[1], 44, 'color:#222;');
  addText(p.label, p.xlab[0], p.xlab[1], p.xfs);
});

addText('Contour plot', 464, 118, 27, 'font-weight:bold;');
addText('RR', 828, 118, 27, 'font-weight:bold;');
addText('Contour plot', 2099, 192, 27, 'font-weight:bold;');
addText('RR', 2482, 192, 27, 'font-weight:bold;');
</script>
</body>
</html>
